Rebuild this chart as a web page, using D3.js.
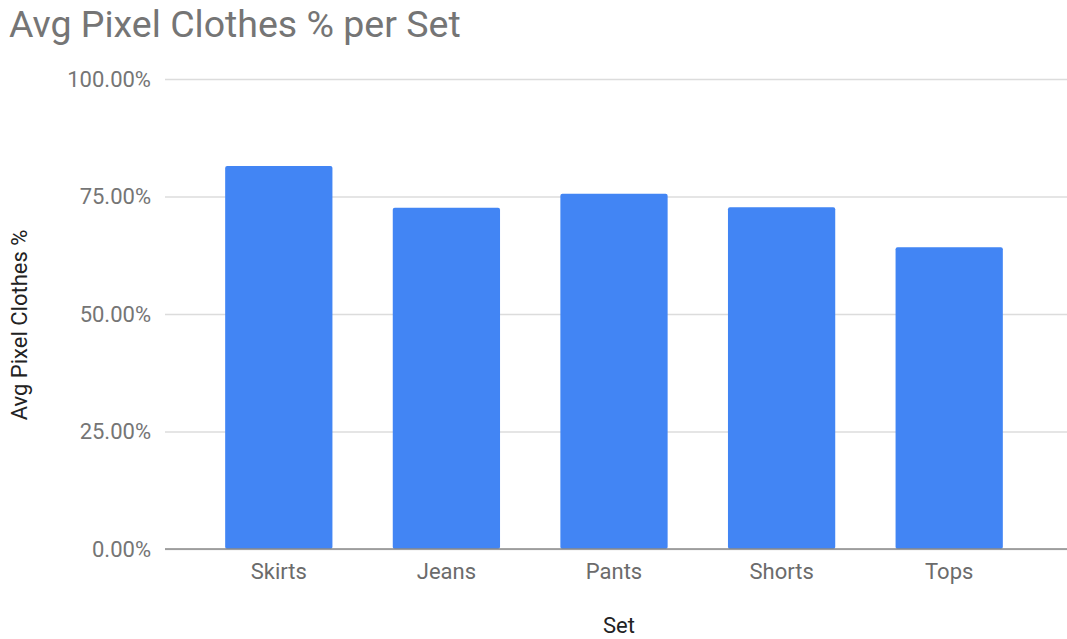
<!DOCTYPE html>
<html>
<head>
<meta charset="utf-8">
<script src="https://cdn.jsdelivr.net/npm/d3@7"></script>
<style>
  html, body { margin: 0; padding: 0; background: #fff; }
  svg { display: block; font-family: Roboto, "Noto Sans", Arial, sans-serif; }
</style>
</head>
<body>
<svg id="chart" width="1067" height="639"></svg>
<script>
// Average share of clothing pixels per image set
const categories = ["Skirts", "Jeans", "Pants", "Shorts", "Tops"];
const avgPixelPct = [81.5, 72.6, 75.6, 72.7, 64.2];
const yTicks = [0, 25, 50, 75, 100];

const svg = d3.select("#chart");

const plot = { left: 165, right: 1067, top: 79, bottom: 549 };

const x = d3.scaleBand()
  .domain(categories)
  .range([195, 1033])
  .paddingInner(0.36)
  .paddingOuter(0.18);

const y = d3.scaleLinear()
  .domain([0, 100])
  .range([plot.bottom, plot.top]);

// Title
svg.append("text")
  .attr("x", 9)
  .attr("y", 37)
  .attr("font-size", 37.5)
  .attr("fill", "#757575")
  .text("Avg Pixel Clothes % per Set");

// Gridlines and y tick labels
const yAxis = d3.axisLeft(y)
  .tickValues(yTicks)
  .tickSize(-(plot.right - plot.left))
  .tickPadding(14)
  .tickFormat(d => d3.format(".2f")(d) + "%");

const gy = svg.append("g")
  .attr("transform", `translate(${plot.left},0)`)
  .call(yAxis);
gy.select(".domain").remove();
gy.selectAll(".tick line").attr("stroke", "#dcdcdc").attr("stroke-width", 1.3);
gy.selectAll(".tick text")
  .attr("font-size", 22)
  .attr("fill", "#757575")
  .attr("font-family", "Roboto, sans-serif");

// Bars
svg.append("g")
  .selectAll("rect")
  .data(categories)
  .join("rect")
  .attr("x", d => x(d))
  .attr("width", x.bandwidth())
  .attr("y", (d, i) => y(avgPixelPct[i]))
  .attr("height", (d, i) => y(0) - y(avgPixelPct[i]))
  .attr("rx", 2)
  .attr("fill", "#4285f4");

// Baseline and category labels
const xAxis = d3.axisBottom(x).tickSize(0).tickPadding(14);
const gx = svg.append("g")
  .attr("transform", `translate(0,${plot.bottom})`)
  .call(xAxis);
gx.select(".domain").remove();
gx.selectAll(".tick text")
  .attr("font-size", 22)
  .attr("fill", "#6b6b6b")
  .attr("font-family", "Roboto, sans-serif");

svg.append("line")
  .attr("x1", plot.left).attr("x2", plot.right)
  .attr("y1", plot.bottom).attr("y2", plot.bottom)
  .attr("stroke", "#8a8a8a")
  .attr("stroke-width", 1.5);

// Axis titles
svg.append("text")
  .attr("x", 619)
  .attr("y", 633)
  .attr("text-anchor", "middle")
  .attr("font-size", 22)
  .attr("fill", "#222")
  .text("Set");

svg.append("text")
  .attr("transform", "translate(27,325) rotate(-90)")
  .attr("text-anchor", "middle")
  .attr("font-size", 22)
  .attr("fill", "#222")
  .text("Avg Pixel Clothes %");
</script>
</body>
</html>
